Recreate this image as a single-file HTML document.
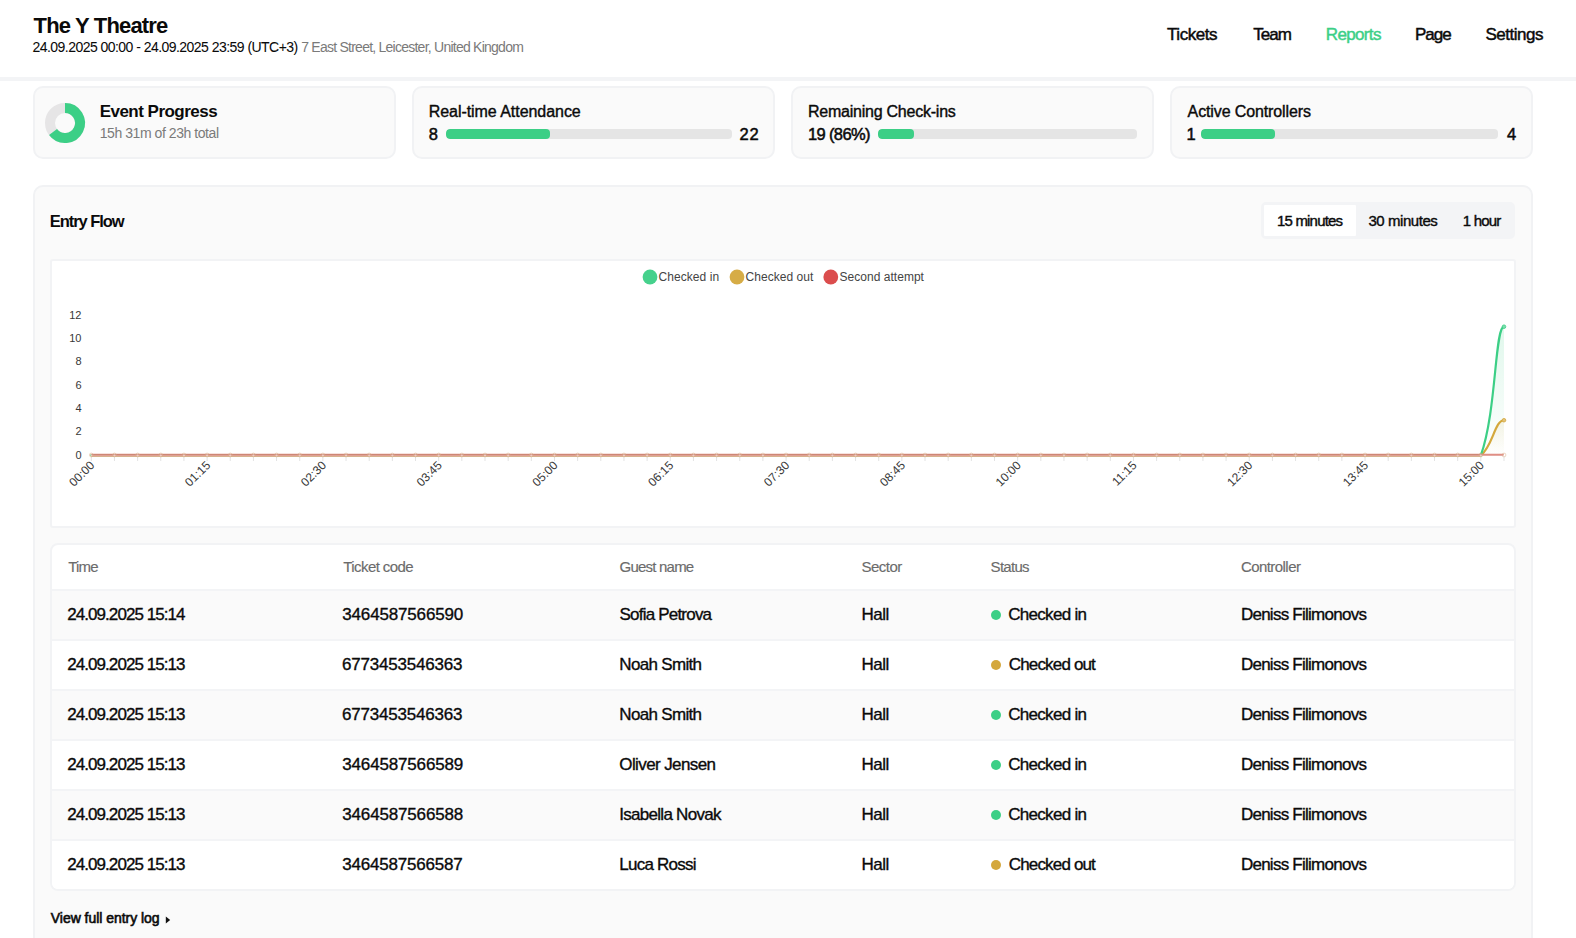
<!DOCTYPE html>
<html><head><meta charset="utf-8"><title>The Y Theatre - Reports</title>
<style>
html,body{margin:0;padding:0;}
body{width:1576px;height:938px;overflow:hidden;position:relative;background:#fff;font-family:"Liberation Sans", sans-serif;}
.t{position:absolute;white-space:nowrap;line-height:1;}
.card{position:absolute;top:86px;width:359px;height:69px;background:#fafafa;border:2px solid #f1f2f4;border-radius:10px;}
.bar{position:absolute;top:129px;height:10px;background:#e5e5e5;border-radius:4px;overflow:hidden}
.bar div{height:10px;background:#3ccf86;border-radius:4px}
.panel{position:absolute;left:33px;top:185px;width:1496px;height:800px;background:#fafafa;border:2px solid #f1f2f4;border-radius:10px;}
</style></head>
<body>
<div class="t" style="left:33.6px;top:15px;font-size:22px;font-weight:700;letter-spacing:-0.833px;color:#0a0a0a;">The Y Theatre</div>
<div class="t" style="left:32.5px;top:40px;font-size:14px;font-weight:400;letter-spacing:-0.54px;color:#0a0a0a;-webkit-text-stroke:0.05px #0a0a0a;">24.09.2025 00:00 - 24.09.2025 23:59 (UTC+3)</div>
<div class="t" style="left:301.2px;top:40px;font-size:14px;font-weight:400;letter-spacing:-0.756px;color:#7a7a7a;">7 East Street, Leicester, United Kingdom</div>
<div class="t" style="left:1167.0px;top:26px;font-size:17px;font-weight:400;letter-spacing:-0.433px;color:#0a0a0a;-webkit-text-stroke:0.45px #0a0a0a;">Tickets</div>
<div class="t" style="left:1253.3px;top:26px;font-size:17px;font-weight:400;letter-spacing:-1.0px;color:#0a0a0a;-webkit-text-stroke:0.45px #0a0a0a;">Team</div>
<div class="t" style="left:1325.8px;top:26px;font-size:17px;font-weight:400;letter-spacing:-0.65px;color:#3ccf86;-webkit-text-stroke:0.45px #3ccf86;">Reports</div>
<div class="t" style="left:1414.9px;top:26px;font-size:17px;font-weight:400;letter-spacing:-1.0px;color:#0a0a0a;-webkit-text-stroke:0.45px #0a0a0a;">Page</div>
<div class="t" style="left:1485.4px;top:26px;font-size:17px;font-weight:400;letter-spacing:-0.486px;color:#0a0a0a;-webkit-text-stroke:0.45px #0a0a0a;">Settings</div>
<div style="position:absolute;left:0;top:77px;width:1576px;height:4px;background:#f3f4f6"></div>
<div class="card" style="left:33px"></div>
<div class="card" style="left:412px"></div>
<div class="card" style="left:791px"></div>
<div class="card" style="left:1170px"></div>
<svg style="position:absolute;left:0;top:0" width="200" height="200"><circle cx="65" cy="123" r="15.0" fill="none" stroke="#e6e5e6" stroke-width="10"/><path d="M 65 108.0 A 15.0 15.0 0 1 1 53.03 132.04" fill="none" stroke="#3ccf86" stroke-width="10"/></svg>
<div class="t" style="left:99.7px;top:103px;font-size:17px;font-weight:700;letter-spacing:-0.523px;color:#0a0a0a;">Event Progress</div>
<div class="t" style="left:99.7px;top:126px;font-size:14px;font-weight:400;letter-spacing:-0.437px;color:#7a7a7a;">15h 31m of 23h total</div>
<div class="t" style="left:428.7px;top:104px;font-size:16px;font-weight:400;letter-spacing:-0.047px;color:#0a0a0a;-webkit-text-stroke:0.4px #0a0a0a;">Real-time Attendance</div>
<div class="t" style="left:807.9px;top:104px;font-size:16px;font-weight:400;letter-spacing:-0.228px;color:#0a0a0a;-webkit-text-stroke:0.4px #0a0a0a;">Remaining Check-ins</div>
<div class="t" style="left:1187.6px;top:104px;font-size:16px;font-weight:400;letter-spacing:-0.118px;color:#0a0a0a;-webkit-text-stroke:0.4px #0a0a0a;">Active Controllers</div>
<div class="t" style="left:428.7px;top:126px;font-size:16.5px;font-weight:400;letter-spacing:0px;color:#0a0a0a;-webkit-text-stroke:0.5px #0a0a0a;">8</div>
<div class="t" style="left:739.6px;top:126px;font-size:16.5px;font-weight:400;letter-spacing:0.8px;color:#0a0a0a;-webkit-text-stroke:0.5px #0a0a0a;">22</div>
<div class="t" style="left:807.9px;top:126px;font-size:16.5px;font-weight:400;letter-spacing:-0.614px;color:#0a0a0a;-webkit-text-stroke:0.5px #0a0a0a;">19 (86%)</div>
<div class="t" style="left:1186.6px;top:126px;font-size:16.5px;font-weight:400;letter-spacing:0px;color:#0a0a0a;-webkit-text-stroke:0.5px #0a0a0a;">1</div>
<div class="t" style="left:1507.0px;top:126px;font-size:16.5px;font-weight:400;letter-spacing:0px;color:#0a0a0a;-webkit-text-stroke:0.5px #0a0a0a;">4</div>
<div class="bar" style="left:446px;width:286px"><div style="width:104px"></div></div>
<div class="bar" style="left:878px;width:259px"><div style="width:36px"></div></div>
<div class="bar" style="left:1201px;width:297px"><div style="width:74px"></div></div>
<div class="panel"></div>
<div class="t" style="left:49.7px;top:213px;font-size:16.5px;font-weight:700;letter-spacing:-1.044px;color:#0a0a0a;">Entry Flow</div>
<div style="position:absolute;left:1261px;top:202px;width:254px;height:37px;background:#f3f4f6;border-radius:5px"></div>
<div style="position:absolute;left:1264px;top:205px;width:92px;height:31px;background:#fff;border-radius:1px"></div>
<div class="t" style="left:1277.0px;top:213px;font-size:15px;font-weight:400;letter-spacing:-0.811px;color:#0a0a0a;-webkit-text-stroke:0.4px #0a0a0a;">15 minutes</div>
<div class="t" style="left:1368.4px;top:213px;font-size:15px;font-weight:400;letter-spacing:-0.433px;color:#0a0a0a;-webkit-text-stroke:0.4px #0a0a0a;">30 minutes</div>
<div class="t" style="left:1462.7px;top:213px;font-size:15px;font-weight:400;letter-spacing:-0.78px;color:#0a0a0a;-webkit-text-stroke:0.4px #0a0a0a;">1 hour</div>
<div style="position:absolute;left:50px;top:259px;width:1462px;height:265px;background:#fff;border:2px solid #f2f3f5;border-radius:3px"></div>
<svg style="position:absolute;left:0;top:0" width="1576" height="938">
<defs><linearGradient id="gg" x1="0" y1="0" x2="0" y2="1"><stop offset="0" stop-color="#3ccf86" stop-opacity="0.16"/><stop offset="1" stop-color="#3ccf86" stop-opacity="0.0"/></linearGradient><linearGradient id="gy" x1="0" y1="0" x2="0" y2="1"><stop offset="0" stop-color="#d4a83c" stop-opacity="0.12"/><stop offset="1" stop-color="#d4a83c" stop-opacity="0.0"/></linearGradient></defs>
<line x1="91.30" y1="456" x2="91.30" y2="461" stroke="#e3e3e3" stroke-width="1"/>
<line x1="114.46" y1="456" x2="114.46" y2="461" stroke="#e3e3e3" stroke-width="1"/>
<line x1="137.62" y1="456" x2="137.62" y2="461" stroke="#e3e3e3" stroke-width="1"/>
<line x1="160.78" y1="456" x2="160.78" y2="461" stroke="#e3e3e3" stroke-width="1"/>
<line x1="183.94" y1="456" x2="183.94" y2="461" stroke="#e3e3e3" stroke-width="1"/>
<line x1="207.10" y1="456" x2="207.10" y2="461" stroke="#e3e3e3" stroke-width="1"/>
<line x1="230.25" y1="456" x2="230.25" y2="461" stroke="#e3e3e3" stroke-width="1"/>
<line x1="253.41" y1="456" x2="253.41" y2="461" stroke="#e3e3e3" stroke-width="1"/>
<line x1="276.57" y1="456" x2="276.57" y2="461" stroke="#e3e3e3" stroke-width="1"/>
<line x1="299.73" y1="456" x2="299.73" y2="461" stroke="#e3e3e3" stroke-width="1"/>
<line x1="322.89" y1="456" x2="322.89" y2="461" stroke="#e3e3e3" stroke-width="1"/>
<line x1="346.05" y1="456" x2="346.05" y2="461" stroke="#e3e3e3" stroke-width="1"/>
<line x1="369.21" y1="456" x2="369.21" y2="461" stroke="#e3e3e3" stroke-width="1"/>
<line x1="392.37" y1="456" x2="392.37" y2="461" stroke="#e3e3e3" stroke-width="1"/>
<line x1="415.53" y1="456" x2="415.53" y2="461" stroke="#e3e3e3" stroke-width="1"/>
<line x1="438.69" y1="456" x2="438.69" y2="461" stroke="#e3e3e3" stroke-width="1"/>
<line x1="461.84" y1="456" x2="461.84" y2="461" stroke="#e3e3e3" stroke-width="1"/>
<line x1="485.00" y1="456" x2="485.00" y2="461" stroke="#e3e3e3" stroke-width="1"/>
<line x1="508.16" y1="456" x2="508.16" y2="461" stroke="#e3e3e3" stroke-width="1"/>
<line x1="531.32" y1="456" x2="531.32" y2="461" stroke="#e3e3e3" stroke-width="1"/>
<line x1="554.48" y1="456" x2="554.48" y2="461" stroke="#e3e3e3" stroke-width="1"/>
<line x1="577.64" y1="456" x2="577.64" y2="461" stroke="#e3e3e3" stroke-width="1"/>
<line x1="600.80" y1="456" x2="600.80" y2="461" stroke="#e3e3e3" stroke-width="1"/>
<line x1="623.96" y1="456" x2="623.96" y2="461" stroke="#e3e3e3" stroke-width="1"/>
<line x1="647.12" y1="456" x2="647.12" y2="461" stroke="#e3e3e3" stroke-width="1"/>
<line x1="670.28" y1="456" x2="670.28" y2="461" stroke="#e3e3e3" stroke-width="1"/>
<line x1="693.43" y1="456" x2="693.43" y2="461" stroke="#e3e3e3" stroke-width="1"/>
<line x1="716.59" y1="456" x2="716.59" y2="461" stroke="#e3e3e3" stroke-width="1"/>
<line x1="739.75" y1="456" x2="739.75" y2="461" stroke="#e3e3e3" stroke-width="1"/>
<line x1="762.91" y1="456" x2="762.91" y2="461" stroke="#e3e3e3" stroke-width="1"/>
<line x1="786.07" y1="456" x2="786.07" y2="461" stroke="#e3e3e3" stroke-width="1"/>
<line x1="809.23" y1="456" x2="809.23" y2="461" stroke="#e3e3e3" stroke-width="1"/>
<line x1="832.39" y1="456" x2="832.39" y2="461" stroke="#e3e3e3" stroke-width="1"/>
<line x1="855.55" y1="456" x2="855.55" y2="461" stroke="#e3e3e3" stroke-width="1"/>
<line x1="878.71" y1="456" x2="878.71" y2="461" stroke="#e3e3e3" stroke-width="1"/>
<line x1="901.87" y1="456" x2="901.87" y2="461" stroke="#e3e3e3" stroke-width="1"/>
<line x1="925.02" y1="456" x2="925.02" y2="461" stroke="#e3e3e3" stroke-width="1"/>
<line x1="948.18" y1="456" x2="948.18" y2="461" stroke="#e3e3e3" stroke-width="1"/>
<line x1="971.34" y1="456" x2="971.34" y2="461" stroke="#e3e3e3" stroke-width="1"/>
<line x1="994.50" y1="456" x2="994.50" y2="461" stroke="#e3e3e3" stroke-width="1"/>
<line x1="1017.66" y1="456" x2="1017.66" y2="461" stroke="#e3e3e3" stroke-width="1"/>
<line x1="1040.82" y1="456" x2="1040.82" y2="461" stroke="#e3e3e3" stroke-width="1"/>
<line x1="1063.98" y1="456" x2="1063.98" y2="461" stroke="#e3e3e3" stroke-width="1"/>
<line x1="1087.14" y1="456" x2="1087.14" y2="461" stroke="#e3e3e3" stroke-width="1"/>
<line x1="1110.30" y1="456" x2="1110.30" y2="461" stroke="#e3e3e3" stroke-width="1"/>
<line x1="1133.46" y1="456" x2="1133.46" y2="461" stroke="#e3e3e3" stroke-width="1"/>
<line x1="1156.61" y1="456" x2="1156.61" y2="461" stroke="#e3e3e3" stroke-width="1"/>
<line x1="1179.77" y1="456" x2="1179.77" y2="461" stroke="#e3e3e3" stroke-width="1"/>
<line x1="1202.93" y1="456" x2="1202.93" y2="461" stroke="#e3e3e3" stroke-width="1"/>
<line x1="1226.09" y1="456" x2="1226.09" y2="461" stroke="#e3e3e3" stroke-width="1"/>
<line x1="1249.25" y1="456" x2="1249.25" y2="461" stroke="#e3e3e3" stroke-width="1"/>
<line x1="1272.41" y1="456" x2="1272.41" y2="461" stroke="#e3e3e3" stroke-width="1"/>
<line x1="1295.57" y1="456" x2="1295.57" y2="461" stroke="#e3e3e3" stroke-width="1"/>
<line x1="1318.73" y1="456" x2="1318.73" y2="461" stroke="#e3e3e3" stroke-width="1"/>
<line x1="1341.89" y1="456" x2="1341.89" y2="461" stroke="#e3e3e3" stroke-width="1"/>
<line x1="1365.05" y1="456" x2="1365.05" y2="461" stroke="#e3e3e3" stroke-width="1"/>
<line x1="1388.20" y1="456" x2="1388.20" y2="461" stroke="#e3e3e3" stroke-width="1"/>
<line x1="1411.36" y1="456" x2="1411.36" y2="461" stroke="#e3e3e3" stroke-width="1"/>
<line x1="1434.52" y1="456" x2="1434.52" y2="461" stroke="#e3e3e3" stroke-width="1"/>
<line x1="1457.68" y1="456" x2="1457.68" y2="461" stroke="#e3e3e3" stroke-width="1"/>
<line x1="1480.84" y1="456" x2="1480.84" y2="461" stroke="#e3e3e3" stroke-width="1"/>
<line x1="1504.00" y1="456" x2="1504.00" y2="461" stroke="#e3e3e3" stroke-width="1"/>
<text x="81.5" y="459.0" text-anchor="end" font-family="Liberation Sans" font-size="11" fill="#383838">0</text>
<text x="81.5" y="435.0" text-anchor="end" font-family="Liberation Sans" font-size="11" fill="#383838">2</text>
<text x="81.5" y="412.0" text-anchor="end" font-family="Liberation Sans" font-size="11" fill="#383838">4</text>
<text x="81.5" y="389.0" text-anchor="end" font-family="Liberation Sans" font-size="11" fill="#383838">6</text>
<text x="81.5" y="365.0" text-anchor="end" font-family="Liberation Sans" font-size="11" fill="#383838">8</text>
<text x="81.5" y="342.0" text-anchor="end" font-family="Liberation Sans" font-size="11" fill="#383838">10</text>
<text x="81.5" y="319.0" text-anchor="end" font-family="Liberation Sans" font-size="11" fill="#383838">12</text>
<text transform="translate(95.3,466) rotate(-45)" text-anchor="end" font-family="Liberation Sans" font-size="12" fill="#383838">00:00</text>
<text transform="translate(211.1,466) rotate(-45)" text-anchor="end" font-family="Liberation Sans" font-size="12" fill="#383838">01:15</text>
<text transform="translate(326.9,466) rotate(-45)" text-anchor="end" font-family="Liberation Sans" font-size="12" fill="#383838">02:30</text>
<text transform="translate(442.7,466) rotate(-45)" text-anchor="end" font-family="Liberation Sans" font-size="12" fill="#383838">03:45</text>
<text transform="translate(558.5,466) rotate(-45)" text-anchor="end" font-family="Liberation Sans" font-size="12" fill="#383838">05:00</text>
<text transform="translate(674.3,466) rotate(-45)" text-anchor="end" font-family="Liberation Sans" font-size="12" fill="#383838">06:15</text>
<text transform="translate(790.1,466) rotate(-45)" text-anchor="end" font-family="Liberation Sans" font-size="12" fill="#383838">07:30</text>
<text transform="translate(905.9,466) rotate(-45)" text-anchor="end" font-family="Liberation Sans" font-size="12" fill="#383838">08:45</text>
<text transform="translate(1021.7,466) rotate(-45)" text-anchor="end" font-family="Liberation Sans" font-size="12" fill="#383838">10:00</text>
<text transform="translate(1137.5,466) rotate(-45)" text-anchor="end" font-family="Liberation Sans" font-size="12" fill="#383838">11:15</text>
<text transform="translate(1253.3,466) rotate(-45)" text-anchor="end" font-family="Liberation Sans" font-size="12" fill="#383838">12:30</text>
<text transform="translate(1369.0,466) rotate(-45)" text-anchor="end" font-family="Liberation Sans" font-size="12" fill="#383838">13:45</text>
<text transform="translate(1484.8,466) rotate(-45)" text-anchor="end" font-family="Liberation Sans" font-size="12" fill="#383838">15:00</text>
<path d="M 91.30 455.30 L 1457.68 455.30 C 1466.95 455.30 1478.05 455.30 1480.84 455.30 C 1496.58 411.60 1494.74 326.69 1504.00 326.69 L 1504.00 455.3 Z" fill="url(#gg)"/>
<path d="M 91.30 455.30 L 1457.68 455.30 C 1466.95 455.30 1474.26 455.30 1480.84 455.30 C 1492.79 446.25 1494.74 420.23 1504.00 420.23 L 1504.00 455.3 Z" fill="url(#gy)"/>
<path d="M 91.30 455.30 L 1457.68 455.30 C 1466.95 455.30 1474.26 455.30 1480.84 455.30 C 1492.79 446.25 1494.74 420.23 1504.00 420.23" fill="none" stroke="#d4a83c" stroke-width="2.2" stroke-linecap="round"/>
<path d="M 91.30 455.30 L 1457.68 455.30 C 1466.95 455.30 1478.05 455.30 1480.84 455.30 C 1496.58 411.60 1494.74 326.69 1504.00 326.69" fill="none" stroke="#3ccf86" stroke-width="2.2" stroke-linecap="round"/>
<circle cx="1504.00" cy="326.69" r="1.8" fill="#7fdcae" stroke="#3ccf86" stroke-width="0.8"/>
<circle cx="1504.00" cy="420.23" r="1.8" fill="#e2c27a" stroke="#d4a83c" stroke-width="0.8"/>
<line x1="91.3" y1="456.0" x2="1480.84" y2="456.0" stroke="#d6b38f" stroke-width="2"/>
<line x1="91.3" y1="454.8" x2="1504.0" y2="454.8" stroke="#dc7468" stroke-width="2" stroke-opacity="0.85"/>
<line x1="91.3" y1="455.3" x2="1504.0" y2="455.3" stroke="#e2aaa6" stroke-width="0.8"/>
<circle cx="91.30" cy="455.00" r="1.9" fill="none" stroke="#d8b088" stroke-width="0.7" stroke-opacity="0.7"/>
<circle cx="91.30" cy="455.30" r="1.1" fill="#fff" fill-opacity="0.45"/>
<circle cx="114.46" cy="455.00" r="1.9" fill="none" stroke="#d8b088" stroke-width="0.7" stroke-opacity="0.7"/>
<circle cx="114.46" cy="455.30" r="1.1" fill="#fff" fill-opacity="0.45"/>
<circle cx="137.62" cy="455.00" r="1.9" fill="none" stroke="#d8b088" stroke-width="0.7" stroke-opacity="0.7"/>
<circle cx="137.62" cy="455.30" r="1.1" fill="#fff" fill-opacity="0.45"/>
<circle cx="160.78" cy="455.00" r="1.9" fill="none" stroke="#d8b088" stroke-width="0.7" stroke-opacity="0.7"/>
<circle cx="160.78" cy="455.30" r="1.1" fill="#fff" fill-opacity="0.45"/>
<circle cx="183.94" cy="455.00" r="1.9" fill="none" stroke="#d8b088" stroke-width="0.7" stroke-opacity="0.7"/>
<circle cx="183.94" cy="455.30" r="1.1" fill="#fff" fill-opacity="0.45"/>
<circle cx="207.10" cy="455.00" r="1.9" fill="none" stroke="#d8b088" stroke-width="0.7" stroke-opacity="0.7"/>
<circle cx="207.10" cy="455.30" r="1.1" fill="#fff" fill-opacity="0.45"/>
<circle cx="230.25" cy="455.00" r="1.9" fill="none" stroke="#d8b088" stroke-width="0.7" stroke-opacity="0.7"/>
<circle cx="230.25" cy="455.30" r="1.1" fill="#fff" fill-opacity="0.45"/>
<circle cx="253.41" cy="455.00" r="1.9" fill="none" stroke="#d8b088" stroke-width="0.7" stroke-opacity="0.7"/>
<circle cx="253.41" cy="455.30" r="1.1" fill="#fff" fill-opacity="0.45"/>
<circle cx="276.57" cy="455.00" r="1.9" fill="none" stroke="#d8b088" stroke-width="0.7" stroke-opacity="0.7"/>
<circle cx="276.57" cy="455.30" r="1.1" fill="#fff" fill-opacity="0.45"/>
<circle cx="299.73" cy="455.00" r="1.9" fill="none" stroke="#d8b088" stroke-width="0.7" stroke-opacity="0.7"/>
<circle cx="299.73" cy="455.30" r="1.1" fill="#fff" fill-opacity="0.45"/>
<circle cx="322.89" cy="455.00" r="1.9" fill="none" stroke="#d8b088" stroke-width="0.7" stroke-opacity="0.7"/>
<circle cx="322.89" cy="455.30" r="1.1" fill="#fff" fill-opacity="0.45"/>
<circle cx="346.05" cy="455.00" r="1.9" fill="none" stroke="#d8b088" stroke-width="0.7" stroke-opacity="0.7"/>
<circle cx="346.05" cy="455.30" r="1.1" fill="#fff" fill-opacity="0.45"/>
<circle cx="369.21" cy="455.00" r="1.9" fill="none" stroke="#d8b088" stroke-width="0.7" stroke-opacity="0.7"/>
<circle cx="369.21" cy="455.30" r="1.1" fill="#fff" fill-opacity="0.45"/>
<circle cx="392.37" cy="455.00" r="1.9" fill="none" stroke="#d8b088" stroke-width="0.7" stroke-opacity="0.7"/>
<circle cx="392.37" cy="455.30" r="1.1" fill="#fff" fill-opacity="0.45"/>
<circle cx="415.53" cy="455.00" r="1.9" fill="none" stroke="#d8b088" stroke-width="0.7" stroke-opacity="0.7"/>
<circle cx="415.53" cy="455.30" r="1.1" fill="#fff" fill-opacity="0.45"/>
<circle cx="438.69" cy="455.00" r="1.9" fill="none" stroke="#d8b088" stroke-width="0.7" stroke-opacity="0.7"/>
<circle cx="438.69" cy="455.30" r="1.1" fill="#fff" fill-opacity="0.45"/>
<circle cx="461.84" cy="455.00" r="1.9" fill="none" stroke="#d8b088" stroke-width="0.7" stroke-opacity="0.7"/>
<circle cx="461.84" cy="455.30" r="1.1" fill="#fff" fill-opacity="0.45"/>
<circle cx="485.00" cy="455.00" r="1.9" fill="none" stroke="#d8b088" stroke-width="0.7" stroke-opacity="0.7"/>
<circle cx="485.00" cy="455.30" r="1.1" fill="#fff" fill-opacity="0.45"/>
<circle cx="508.16" cy="455.00" r="1.9" fill="none" stroke="#d8b088" stroke-width="0.7" stroke-opacity="0.7"/>
<circle cx="508.16" cy="455.30" r="1.1" fill="#fff" fill-opacity="0.45"/>
<circle cx="531.32" cy="455.00" r="1.9" fill="none" stroke="#d8b088" stroke-width="0.7" stroke-opacity="0.7"/>
<circle cx="531.32" cy="455.30" r="1.1" fill="#fff" fill-opacity="0.45"/>
<circle cx="554.48" cy="455.00" r="1.9" fill="none" stroke="#d8b088" stroke-width="0.7" stroke-opacity="0.7"/>
<circle cx="554.48" cy="455.30" r="1.1" fill="#fff" fill-opacity="0.45"/>
<circle cx="577.64" cy="455.00" r="1.9" fill="none" stroke="#d8b088" stroke-width="0.7" stroke-opacity="0.7"/>
<circle cx="577.64" cy="455.30" r="1.1" fill="#fff" fill-opacity="0.45"/>
<circle cx="600.80" cy="455.00" r="1.9" fill="none" stroke="#d8b088" stroke-width="0.7" stroke-opacity="0.7"/>
<circle cx="600.80" cy="455.30" r="1.1" fill="#fff" fill-opacity="0.45"/>
<circle cx="623.96" cy="455.00" r="1.9" fill="none" stroke="#d8b088" stroke-width="0.7" stroke-opacity="0.7"/>
<circle cx="623.96" cy="455.30" r="1.1" fill="#fff" fill-opacity="0.45"/>
<circle cx="647.12" cy="455.00" r="1.9" fill="none" stroke="#d8b088" stroke-width="0.7" stroke-opacity="0.7"/>
<circle cx="647.12" cy="455.30" r="1.1" fill="#fff" fill-opacity="0.45"/>
<circle cx="670.28" cy="455.00" r="1.9" fill="none" stroke="#d8b088" stroke-width="0.7" stroke-opacity="0.7"/>
<circle cx="670.28" cy="455.30" r="1.1" fill="#fff" fill-opacity="0.45"/>
<circle cx="693.43" cy="455.00" r="1.9" fill="none" stroke="#d8b088" stroke-width="0.7" stroke-opacity="0.7"/>
<circle cx="693.43" cy="455.30" r="1.1" fill="#fff" fill-opacity="0.45"/>
<circle cx="716.59" cy="455.00" r="1.9" fill="none" stroke="#d8b088" stroke-width="0.7" stroke-opacity="0.7"/>
<circle cx="716.59" cy="455.30" r="1.1" fill="#fff" fill-opacity="0.45"/>
<circle cx="739.75" cy="455.00" r="1.9" fill="none" stroke="#d8b088" stroke-width="0.7" stroke-opacity="0.7"/>
<circle cx="739.75" cy="455.30" r="1.1" fill="#fff" fill-opacity="0.45"/>
<circle cx="762.91" cy="455.00" r="1.9" fill="none" stroke="#d8b088" stroke-width="0.7" stroke-opacity="0.7"/>
<circle cx="762.91" cy="455.30" r="1.1" fill="#fff" fill-opacity="0.45"/>
<circle cx="786.07" cy="455.00" r="1.9" fill="none" stroke="#d8b088" stroke-width="0.7" stroke-opacity="0.7"/>
<circle cx="786.07" cy="455.30" r="1.1" fill="#fff" fill-opacity="0.45"/>
<circle cx="809.23" cy="455.00" r="1.9" fill="none" stroke="#d8b088" stroke-width="0.7" stroke-opacity="0.7"/>
<circle cx="809.23" cy="455.30" r="1.1" fill="#fff" fill-opacity="0.45"/>
<circle cx="832.39" cy="455.00" r="1.9" fill="none" stroke="#d8b088" stroke-width="0.7" stroke-opacity="0.7"/>
<circle cx="832.39" cy="455.30" r="1.1" fill="#fff" fill-opacity="0.45"/>
<circle cx="855.55" cy="455.00" r="1.9" fill="none" stroke="#d8b088" stroke-width="0.7" stroke-opacity="0.7"/>
<circle cx="855.55" cy="455.30" r="1.1" fill="#fff" fill-opacity="0.45"/>
<circle cx="878.71" cy="455.00" r="1.9" fill="none" stroke="#d8b088" stroke-width="0.7" stroke-opacity="0.7"/>
<circle cx="878.71" cy="455.30" r="1.1" fill="#fff" fill-opacity="0.45"/>
<circle cx="901.87" cy="455.00" r="1.9" fill="none" stroke="#d8b088" stroke-width="0.7" stroke-opacity="0.7"/>
<circle cx="901.87" cy="455.30" r="1.1" fill="#fff" fill-opacity="0.45"/>
<circle cx="925.02" cy="455.00" r="1.9" fill="none" stroke="#d8b088" stroke-width="0.7" stroke-opacity="0.7"/>
<circle cx="925.02" cy="455.30" r="1.1" fill="#fff" fill-opacity="0.45"/>
<circle cx="948.18" cy="455.00" r="1.9" fill="none" stroke="#d8b088" stroke-width="0.7" stroke-opacity="0.7"/>
<circle cx="948.18" cy="455.30" r="1.1" fill="#fff" fill-opacity="0.45"/>
<circle cx="971.34" cy="455.00" r="1.9" fill="none" stroke="#d8b088" stroke-width="0.7" stroke-opacity="0.7"/>
<circle cx="971.34" cy="455.30" r="1.1" fill="#fff" fill-opacity="0.45"/>
<circle cx="994.50" cy="455.00" r="1.9" fill="none" stroke="#d8b088" stroke-width="0.7" stroke-opacity="0.7"/>
<circle cx="994.50" cy="455.30" r="1.1" fill="#fff" fill-opacity="0.45"/>
<circle cx="1017.66" cy="455.00" r="1.9" fill="none" stroke="#d8b088" stroke-width="0.7" stroke-opacity="0.7"/>
<circle cx="1017.66" cy="455.30" r="1.1" fill="#fff" fill-opacity="0.45"/>
<circle cx="1040.82" cy="455.00" r="1.9" fill="none" stroke="#d8b088" stroke-width="0.7" stroke-opacity="0.7"/>
<circle cx="1040.82" cy="455.30" r="1.1" fill="#fff" fill-opacity="0.45"/>
<circle cx="1063.98" cy="455.00" r="1.9" fill="none" stroke="#d8b088" stroke-width="0.7" stroke-opacity="0.7"/>
<circle cx="1063.98" cy="455.30" r="1.1" fill="#fff" fill-opacity="0.45"/>
<circle cx="1087.14" cy="455.00" r="1.9" fill="none" stroke="#d8b088" stroke-width="0.7" stroke-opacity="0.7"/>
<circle cx="1087.14" cy="455.30" r="1.1" fill="#fff" fill-opacity="0.45"/>
<circle cx="1110.30" cy="455.00" r="1.9" fill="none" stroke="#d8b088" stroke-width="0.7" stroke-opacity="0.7"/>
<circle cx="1110.30" cy="455.30" r="1.1" fill="#fff" fill-opacity="0.45"/>
<circle cx="1133.46" cy="455.00" r="1.9" fill="none" stroke="#d8b088" stroke-width="0.7" stroke-opacity="0.7"/>
<circle cx="1133.46" cy="455.30" r="1.1" fill="#fff" fill-opacity="0.45"/>
<circle cx="1156.61" cy="455.00" r="1.9" fill="none" stroke="#d8b088" stroke-width="0.7" stroke-opacity="0.7"/>
<circle cx="1156.61" cy="455.30" r="1.1" fill="#fff" fill-opacity="0.45"/>
<circle cx="1179.77" cy="455.00" r="1.9" fill="none" stroke="#d8b088" stroke-width="0.7" stroke-opacity="0.7"/>
<circle cx="1179.77" cy="455.30" r="1.1" fill="#fff" fill-opacity="0.45"/>
<circle cx="1202.93" cy="455.00" r="1.9" fill="none" stroke="#d8b088" stroke-width="0.7" stroke-opacity="0.7"/>
<circle cx="1202.93" cy="455.30" r="1.1" fill="#fff" fill-opacity="0.45"/>
<circle cx="1226.09" cy="455.00" r="1.9" fill="none" stroke="#d8b088" stroke-width="0.7" stroke-opacity="0.7"/>
<circle cx="1226.09" cy="455.30" r="1.1" fill="#fff" fill-opacity="0.45"/>
<circle cx="1249.25" cy="455.00" r="1.9" fill="none" stroke="#d8b088" stroke-width="0.7" stroke-opacity="0.7"/>
<circle cx="1249.25" cy="455.30" r="1.1" fill="#fff" fill-opacity="0.45"/>
<circle cx="1272.41" cy="455.00" r="1.9" fill="none" stroke="#d8b088" stroke-width="0.7" stroke-opacity="0.7"/>
<circle cx="1272.41" cy="455.30" r="1.1" fill="#fff" fill-opacity="0.45"/>
<circle cx="1295.57" cy="455.00" r="1.9" fill="none" stroke="#d8b088" stroke-width="0.7" stroke-opacity="0.7"/>
<circle cx="1295.57" cy="455.30" r="1.1" fill="#fff" fill-opacity="0.45"/>
<circle cx="1318.73" cy="455.00" r="1.9" fill="none" stroke="#d8b088" stroke-width="0.7" stroke-opacity="0.7"/>
<circle cx="1318.73" cy="455.30" r="1.1" fill="#fff" fill-opacity="0.45"/>
<circle cx="1341.89" cy="455.00" r="1.9" fill="none" stroke="#d8b088" stroke-width="0.7" stroke-opacity="0.7"/>
<circle cx="1341.89" cy="455.30" r="1.1" fill="#fff" fill-opacity="0.45"/>
<circle cx="1365.05" cy="455.00" r="1.9" fill="none" stroke="#d8b088" stroke-width="0.7" stroke-opacity="0.7"/>
<circle cx="1365.05" cy="455.30" r="1.1" fill="#fff" fill-opacity="0.45"/>
<circle cx="1388.20" cy="455.00" r="1.9" fill="none" stroke="#d8b088" stroke-width="0.7" stroke-opacity="0.7"/>
<circle cx="1388.20" cy="455.30" r="1.1" fill="#fff" fill-opacity="0.45"/>
<circle cx="1411.36" cy="455.00" r="1.9" fill="none" stroke="#d8b088" stroke-width="0.7" stroke-opacity="0.7"/>
<circle cx="1411.36" cy="455.30" r="1.1" fill="#fff" fill-opacity="0.45"/>
<circle cx="1434.52" cy="455.00" r="1.9" fill="none" stroke="#d8b088" stroke-width="0.7" stroke-opacity="0.7"/>
<circle cx="1434.52" cy="455.30" r="1.1" fill="#fff" fill-opacity="0.45"/>
<circle cx="1457.68" cy="455.00" r="1.9" fill="none" stroke="#d8b088" stroke-width="0.7" stroke-opacity="0.7"/>
<circle cx="1457.68" cy="455.30" r="1.1" fill="#fff" fill-opacity="0.45"/>
<circle cx="1480.84" cy="455.00" r="1.9" fill="none" stroke="#d8b088" stroke-width="0.7" stroke-opacity="0.7"/>
<circle cx="1480.84" cy="455.30" r="1.1" fill="#fff" fill-opacity="0.45"/>
<circle cx="1504.00" cy="455.00" r="1.9" fill="none" stroke="#d8b088" stroke-width="0.7" stroke-opacity="0.7"/>
<circle cx="1504.00" cy="455.30" r="1.1" fill="#fff" fill-opacity="0.45"/>
<circle cx="650" cy="277" r="7.4" fill="#3ccf86" fill-opacity="0.95"/>
<circle cx="737" cy="277" r="7.4" fill="#d4a83c" fill-opacity="0.95"/>
<circle cx="830.8" cy="277" r="7.4" fill="#d94343" fill-opacity="0.95"/>
</svg>
<div class="t" style="left:658.4px;top:271px;font-size:12px;font-weight:400;letter-spacing:0.078px;color:#444;">Checked in</div>
<div class="t" style="left:745.6px;top:271px;font-size:12px;font-weight:400;letter-spacing:0.03px;color:#444;">Checked out</div>
<div class="t" style="left:839.5px;top:271px;font-size:12px;font-weight:400;letter-spacing:0.031px;color:#444;">Second attempt</div>
<div style="position:absolute;left:50px;top:543px;width:1462px;height:344px;background:#fff;border:2px solid #f2f3f5;border-radius:8px;overflow:hidden">
<div style="position:absolute;left:0;top:44px;width:100%;height:2px;background:#f3f4f6"></div>
<div style="position:absolute;left:0;top:46px;width:100%;height:48px;background:#fafafa"></div>
<div style="position:absolute;left:0;top:94px;width:100%;height:2px;background:#f3f4f6"></div>
<div style="position:absolute;left:0;top:96px;width:100%;height:48px;background:#fff"></div>
<div style="position:absolute;left:0;top:144px;width:100%;height:2px;background:#f3f4f6"></div>
<div style="position:absolute;left:0;top:146px;width:100%;height:48px;background:#fafafa"></div>
<div style="position:absolute;left:0;top:194px;width:100%;height:2px;background:#f3f4f6"></div>
<div style="position:absolute;left:0;top:196px;width:100%;height:48px;background:#fff"></div>
<div style="position:absolute;left:0;top:244px;width:100%;height:2px;background:#f3f4f6"></div>
<div style="position:absolute;left:0;top:246px;width:100%;height:48px;background:#fafafa"></div>
<div style="position:absolute;left:0;top:294px;width:100%;height:2px;background:#f3f4f6"></div>
<div style="position:absolute;left:0;top:296px;width:100%;height:48px;background:#fff"></div>
</div>
<div class="t" style="left:68.2px;top:559px;font-size:15px;font-weight:400;letter-spacing:-0.767px;color:#6b6b6b;-webkit-text-stroke:0.15px #6b6b6b;">Time</div>
<div class="t" style="left:343.3px;top:559px;font-size:15px;font-weight:400;letter-spacing:-0.58px;color:#6b6b6b;-webkit-text-stroke:0.15px #6b6b6b;">Ticket code</div>
<div class="t" style="left:619.5px;top:559px;font-size:15px;font-weight:400;letter-spacing:-0.778px;color:#6b6b6b;-webkit-text-stroke:0.15px #6b6b6b;">Guest name</div>
<div class="t" style="left:861.4px;top:559px;font-size:15px;font-weight:400;letter-spacing:-0.48px;color:#6b6b6b;-webkit-text-stroke:0.15px #6b6b6b;">Sector</div>
<div class="t" style="left:990.6px;top:559px;font-size:15px;font-weight:400;letter-spacing:-0.72px;color:#6b6b6b;-webkit-text-stroke:0.15px #6b6b6b;">Status</div>
<div class="t" style="left:1240.9px;top:559px;font-size:15px;font-weight:400;letter-spacing:-0.556px;color:#6b6b6b;-webkit-text-stroke:0.15px #6b6b6b;">Controller</div>
<div class="t" style="left:67.2px;top:606px;font-size:17px;font-weight:400;letter-spacing:-0.933px;color:#0a0a0a;-webkit-text-stroke:0.35px #0a0a0a;">24.09.2025 15:14</div>
<div class="t" style="left:342.3px;top:606px;font-size:17px;font-weight:400;letter-spacing:-0.167px;color:#0a0a0a;-webkit-text-stroke:0.35px #0a0a0a;">3464587566590</div>
<div class="t" style="left:619.5px;top:606px;font-size:17px;font-weight:400;letter-spacing:-0.792px;color:#0a0a0a;-webkit-text-stroke:0.35px #0a0a0a;">Sofia Petrova</div>
<div class="t" style="left:861.4px;top:606px;font-size:17px;font-weight:400;letter-spacing:-0.467px;color:#0a0a0a;-webkit-text-stroke:0.35px #0a0a0a;">Hall</div>
<div class="t" style="left:1008.2px;top:606px;font-size:17px;font-weight:400;letter-spacing:-0.689px;color:#0a0a0a;-webkit-text-stroke:0.35px #0a0a0a;">Checked in</div>
<div class="t" style="left:1240.9px;top:606px;font-size:17px;font-weight:400;letter-spacing:-0.744px;color:#0a0a0a;-webkit-text-stroke:0.35px #0a0a0a;">Deniss Filimonovs</div>
<div style="position:absolute;left:991px;top:610px;width:10px;height:10px;border-radius:50%;background:#3ccf86"></div>
<div class="t" style="left:67.2px;top:656px;font-size:17px;font-weight:400;letter-spacing:-0.933px;color:#0a0a0a;-webkit-text-stroke:0.35px #0a0a0a;">24.09.2025 15:13</div>
<div class="t" style="left:342.0px;top:656px;font-size:17px;font-weight:400;letter-spacing:-0.2px;color:#0a0a0a;-webkit-text-stroke:0.35px #0a0a0a;">6773453546363</div>
<div class="t" style="left:619.3px;top:656px;font-size:17px;font-weight:400;letter-spacing:-0.678px;color:#0a0a0a;-webkit-text-stroke:0.35px #0a0a0a;">Noah Smith</div>
<div class="t" style="left:861.4px;top:656px;font-size:17px;font-weight:400;letter-spacing:-0.467px;color:#0a0a0a;-webkit-text-stroke:0.35px #0a0a0a;">Hall</div>
<div class="t" style="left:1008.8px;top:656px;font-size:17px;font-weight:400;letter-spacing:-0.84px;color:#0a0a0a;-webkit-text-stroke:0.35px #0a0a0a;">Checked out</div>
<div class="t" style="left:1240.9px;top:656px;font-size:17px;font-weight:400;letter-spacing:-0.744px;color:#0a0a0a;-webkit-text-stroke:0.35px #0a0a0a;">Deniss Filimonovs</div>
<div style="position:absolute;left:991px;top:660px;width:10px;height:10px;border-radius:50%;background:#d4a83c"></div>
<div class="t" style="left:67.2px;top:706px;font-size:17px;font-weight:400;letter-spacing:-0.933px;color:#0a0a0a;-webkit-text-stroke:0.35px #0a0a0a;">24.09.2025 15:13</div>
<div class="t" style="left:342.0px;top:706px;font-size:17px;font-weight:400;letter-spacing:-0.2px;color:#0a0a0a;-webkit-text-stroke:0.35px #0a0a0a;">6773453546363</div>
<div class="t" style="left:619.3px;top:706px;font-size:17px;font-weight:400;letter-spacing:-0.678px;color:#0a0a0a;-webkit-text-stroke:0.35px #0a0a0a;">Noah Smith</div>
<div class="t" style="left:861.4px;top:706px;font-size:17px;font-weight:400;letter-spacing:-0.467px;color:#0a0a0a;-webkit-text-stroke:0.35px #0a0a0a;">Hall</div>
<div class="t" style="left:1008.2px;top:706px;font-size:17px;font-weight:400;letter-spacing:-0.689px;color:#0a0a0a;-webkit-text-stroke:0.35px #0a0a0a;">Checked in</div>
<div class="t" style="left:1240.9px;top:706px;font-size:17px;font-weight:400;letter-spacing:-0.744px;color:#0a0a0a;-webkit-text-stroke:0.35px #0a0a0a;">Deniss Filimonovs</div>
<div style="position:absolute;left:991px;top:710px;width:10px;height:10px;border-radius:50%;background:#3ccf86"></div>
<div class="t" style="left:67.2px;top:756px;font-size:17px;font-weight:400;letter-spacing:-0.933px;color:#0a0a0a;-webkit-text-stroke:0.35px #0a0a0a;">24.09.2025 15:13</div>
<div class="t" style="left:342.3px;top:756px;font-size:17px;font-weight:400;letter-spacing:-0.167px;color:#0a0a0a;-webkit-text-stroke:0.35px #0a0a0a;">3464587566589</div>
<div class="t" style="left:619.3px;top:756px;font-size:17px;font-weight:400;letter-spacing:-0.608px;color:#0a0a0a;-webkit-text-stroke:0.35px #0a0a0a;">Oliver Jensen</div>
<div class="t" style="left:861.4px;top:756px;font-size:17px;font-weight:400;letter-spacing:-0.467px;color:#0a0a0a;-webkit-text-stroke:0.35px #0a0a0a;">Hall</div>
<div class="t" style="left:1008.2px;top:756px;font-size:17px;font-weight:400;letter-spacing:-0.689px;color:#0a0a0a;-webkit-text-stroke:0.35px #0a0a0a;">Checked in</div>
<div class="t" style="left:1240.9px;top:756px;font-size:17px;font-weight:400;letter-spacing:-0.744px;color:#0a0a0a;-webkit-text-stroke:0.35px #0a0a0a;">Deniss Filimonovs</div>
<div style="position:absolute;left:991px;top:760px;width:10px;height:10px;border-radius:50%;background:#3ccf86"></div>
<div class="t" style="left:67.2px;top:806px;font-size:17px;font-weight:400;letter-spacing:-0.933px;color:#0a0a0a;-webkit-text-stroke:0.35px #0a0a0a;">24.09.2025 15:13</div>
<div class="t" style="left:342.3px;top:806px;font-size:17px;font-weight:400;letter-spacing:-0.167px;color:#0a0a0a;-webkit-text-stroke:0.35px #0a0a0a;">3464587566588</div>
<div class="t" style="left:619.3px;top:806px;font-size:17px;font-weight:400;letter-spacing:-0.723px;color:#0a0a0a;-webkit-text-stroke:0.35px #0a0a0a;">Isabella Novak</div>
<div class="t" style="left:861.4px;top:806px;font-size:17px;font-weight:400;letter-spacing:-0.467px;color:#0a0a0a;-webkit-text-stroke:0.35px #0a0a0a;">Hall</div>
<div class="t" style="left:1008.2px;top:806px;font-size:17px;font-weight:400;letter-spacing:-0.689px;color:#0a0a0a;-webkit-text-stroke:0.35px #0a0a0a;">Checked in</div>
<div class="t" style="left:1240.9px;top:806px;font-size:17px;font-weight:400;letter-spacing:-0.744px;color:#0a0a0a;-webkit-text-stroke:0.35px #0a0a0a;">Deniss Filimonovs</div>
<div style="position:absolute;left:991px;top:810px;width:10px;height:10px;border-radius:50%;background:#3ccf86"></div>
<div class="t" style="left:67.2px;top:856px;font-size:17px;font-weight:400;letter-spacing:-0.933px;color:#0a0a0a;-webkit-text-stroke:0.35px #0a0a0a;">24.09.2025 15:13</div>
<div class="t" style="left:342.3px;top:856px;font-size:17px;font-weight:400;letter-spacing:-0.208px;color:#0a0a0a;-webkit-text-stroke:0.35px #0a0a0a;">3464587566587</div>
<div class="t" style="left:619.3px;top:856px;font-size:17px;font-weight:400;letter-spacing:-0.767px;color:#0a0a0a;-webkit-text-stroke:0.35px #0a0a0a;">Luca Rossi</div>
<div class="t" style="left:861.4px;top:856px;font-size:17px;font-weight:400;letter-spacing:-0.467px;color:#0a0a0a;-webkit-text-stroke:0.35px #0a0a0a;">Hall</div>
<div class="t" style="left:1008.8px;top:856px;font-size:17px;font-weight:400;letter-spacing:-0.84px;color:#0a0a0a;-webkit-text-stroke:0.35px #0a0a0a;">Checked out</div>
<div class="t" style="left:1240.9px;top:856px;font-size:17px;font-weight:400;letter-spacing:-0.744px;color:#0a0a0a;-webkit-text-stroke:0.35px #0a0a0a;">Deniss Filimonovs</div>
<div style="position:absolute;left:991px;top:860px;width:10px;height:10px;border-radius:50%;background:#d4a83c"></div>
<div class="t" style="left:50.8px;top:911px;font-size:14px;font-weight:400;letter-spacing:-0.039px;color:#0a0a0a;-webkit-text-stroke:0.6px #0a0a0a;">View full entry log</div>
<svg style="position:absolute;left:164px;top:914px" width="10" height="12"><path d="M1.8 2.4 L6.2 6 L1.8 9.6 Z" fill="#111"/></svg>
</body></html>
